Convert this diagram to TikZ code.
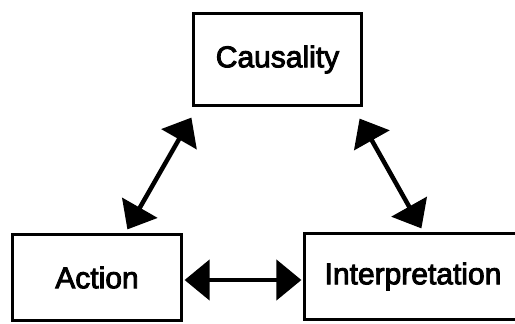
\documentclass[tikz,border=0pt]{standalone}
\usepackage{fontspec}
\setmainfont{Liberation Sans}
\newfontfamily\labelfont{Liberation Sans}[FakeBold=3]
\usetikzlibrary{arrows.meta}
\begin{document}
\begin{tikzpicture}[x=1pt,y=-1pt,
  box/.style={draw=black,line width=3.2pt,rectangle,inner sep=0pt,
    font=\labelfont\fontsize{30}{35}\selectfont},
  biarrow/.style={line width=4.5pt,
    {Triangle[length=25pt,width=40pt]}-{Triangle[length=25pt,width=40pt]}}]
\useasboundingbox (0,0) rectangle (515,324);
\fill[white] (0,0) rectangle (515,324);

% the three concept boxes
\node[box,minimum width=168pt,minimum height=92pt] (caus) at (277.5,59.5) {Causality};
\node[box,minimum width=169pt,minimum height=86pt] (action) at (97,277.5) {Action\hspace{19pt}};
\node[box,minimum width=217pt,minimum height=86pt] (interp) at (413,276.5) {Interpretation};

% two-way links between the concepts
\draw[biarrow] ([shift={(-0.5,10.5)}]caus.south west) -- ([shift={(116.5,-3.5)}]action.north west);
\draw[biarrow] ([shift={(-3.5,11.5)}]caus.south east) -- ([shift={(118.5,-3.5)}]interp.north west);
\draw[biarrow] ([shift={(1.5,2.5)}]action.east) -- ([shift={(-1.5,3.5)}]interp.west);
\end{tikzpicture}
\end{document}
